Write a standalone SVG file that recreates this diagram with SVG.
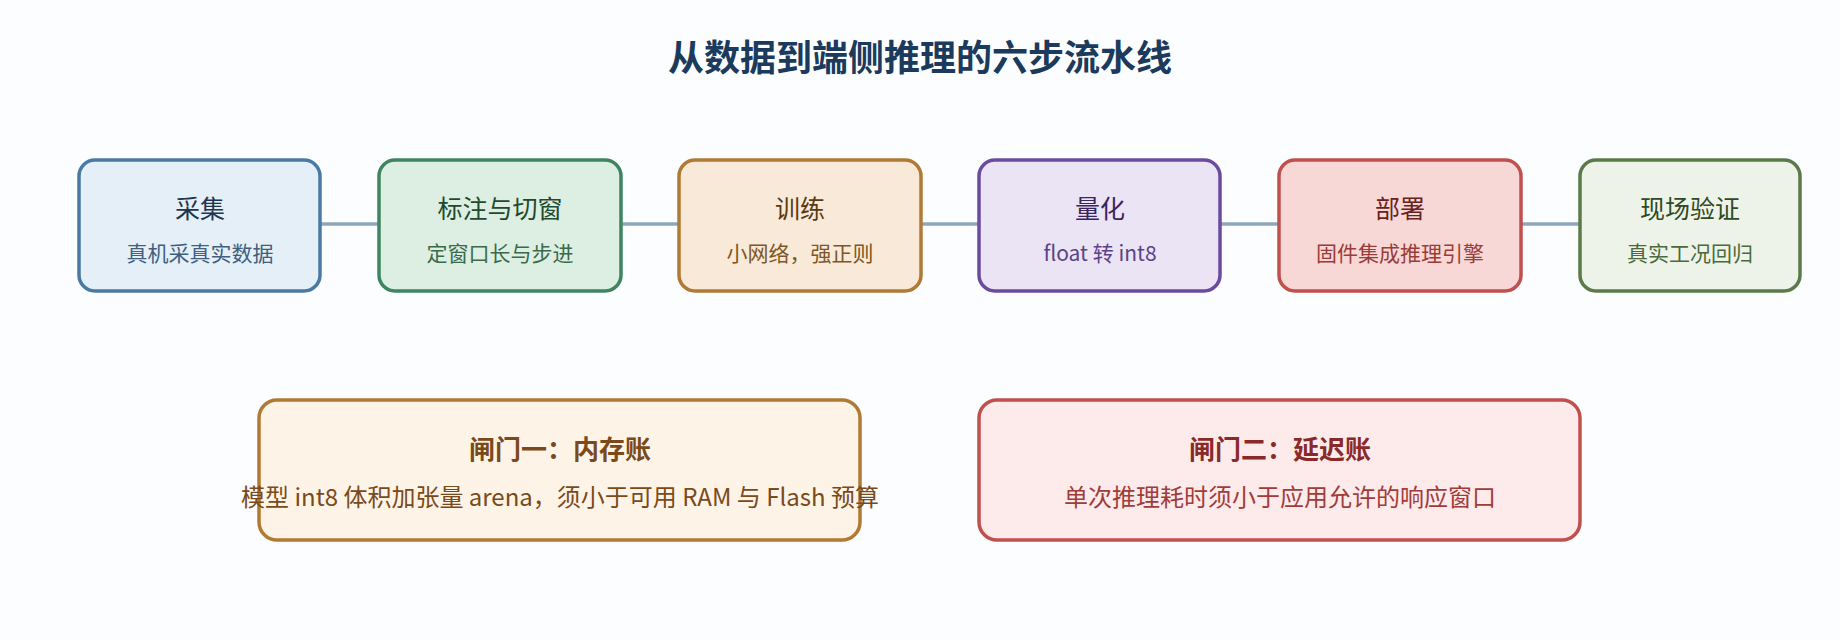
<svg xmlns="http://www.w3.org/2000/svg" width="1840" height="640" viewBox="0 0 1840 640">
<style>
text{font-family:"Noto Sans CJK SC","Noto Sans",sans-serif;text-anchor:middle;dominant-baseline:central}
.t{font-size:25px}.s{font-size:21px}
.gt{font-size:26px;font-weight:bold}.gs{font-size:24px}
rect{stroke-width:3.5}
</style>
<rect width="1840" height="640" fill="#fcfdfe"/>
<text x="920" y="55" font-size="36" font-weight="bold" fill="#1b3a5c">从数据到端侧推理的六步流水线</text>
<g id="connectors" stroke="#8ea7bd" stroke-width="3.5">
<line x1="320" y1="224" x2="379" y2="224"/>
<line x1="621" y1="224" x2="679" y2="224"/>
<line x1="921" y1="224" x2="979" y2="224"/>
<line x1="1220" y1="224" x2="1279" y2="224"/>
<line x1="1521" y1="224" x2="1580" y2="224"/>
</g>
<g id="n1"><rect x="79" y="160" width="241" height="131" rx="16" fill="#e4eff8" stroke="#4a7aa3"/>
<text class="t" x="200" y="207" fill="#1e3550">采集</text><text class="s" x="200" y="252" fill="#3f5f80">真机采真实数据</text></g>
<g id="n2"><rect x="379" y="160" width="242" height="131" rx="16" fill="#dcefe2" stroke="#3f8560"/>
<text class="t" x="500" y="207" fill="#1f4a30">标注与切窗</text><text class="s" x="500" y="252" fill="#3a6a4b">定窗口长与步进</text></g>
<g id="n3"><rect x="679" y="160" width="242" height="131" rx="16" fill="#f8e9d8" stroke="#b07a34"/>
<text class="t" x="800" y="207" fill="#5a3a12">训练</text><text class="s" x="800" y="252" fill="#7e5724">小网络，强正则</text></g>
<g id="n4"><rect x="979" y="160" width="241" height="131" rx="16" fill="#ebe4f5" stroke="#6b4b9e"/>
<text class="t" x="1100" y="207" fill="#3a2560">量化</text><text class="s" x="1100" y="252" fill="#5a4388">float 转 int8</text></g>
<g id="n5"><rect x="1279" y="160" width="242" height="131" rx="16" fill="#f7d8d6" stroke="#c0504d"/>
<text class="t" x="1400" y="207" fill="#6a2220">部署</text><text class="s" x="1400" y="252" fill="#9a3c39">固件集成推理引擎</text></g>
<g id="n6"><rect x="1580" y="160" width="220" height="131" rx="16" fill="#eef3ea" stroke="#5a7a4a"/>
<text class="t" x="1690" y="207" fill="#2f4a24">现场验证</text><text class="s" x="1690" y="252" fill="#4a6a3a">真实工况回归</text></g>
<g id="g1"><rect x="259" y="400" width="601" height="140" rx="18" fill="#fdf4e7" stroke="#b07a34"/>
<text class="gt" x="560" y="447" fill="#7a4a1a">闸门一：内存账</text><text class="gs" x="560" y="495" fill="#7a4a1a">模型 int8 体积加张量 arena，须小于可用 RAM 与 Flash 预算</text></g>
<g id="g2"><rect x="979" y="400" width="601" height="140" rx="18" fill="#fdeaea" stroke="#c0504d"/>
<text class="gt" x="1280" y="447" fill="#8a2a28">闸门二：延迟账</text><text class="gs" x="1280" y="495" fill="#a03c39">单次推理耗时须小于应用允许的响应窗口</text></g>
</svg>
